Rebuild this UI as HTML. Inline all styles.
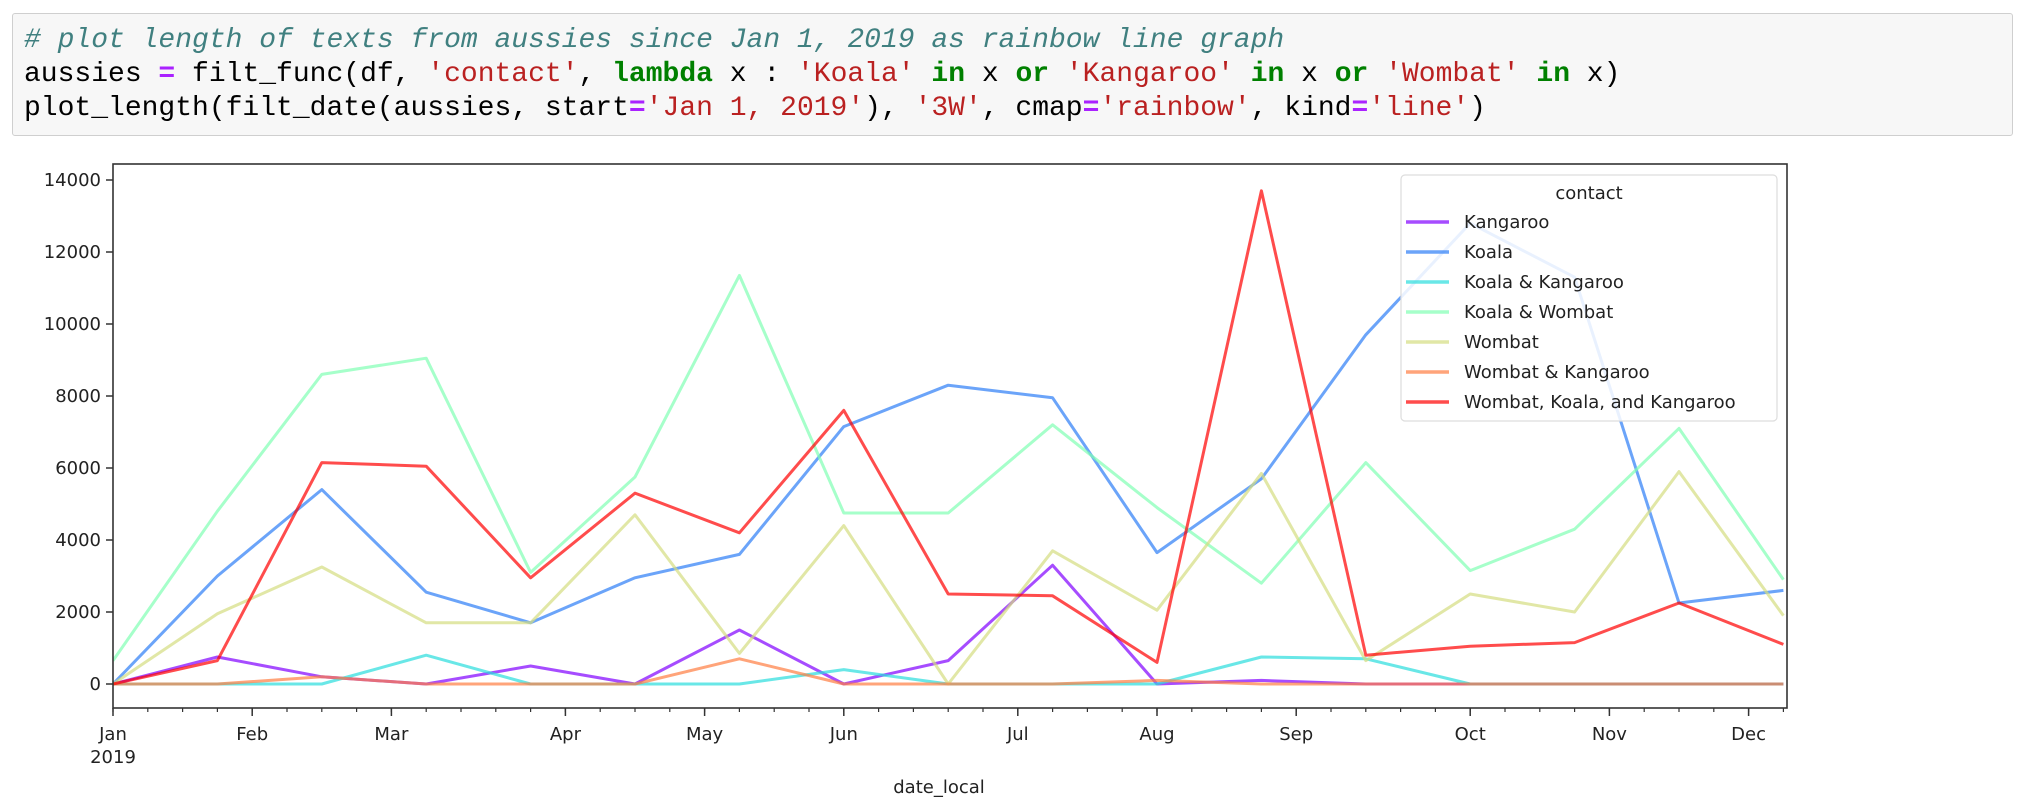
<!DOCTYPE html>
<html><head><meta charset="utf-8">
<style>
body{margin:0;width:2024px;height:812px;background:#fff;overflow:hidden;position:relative;font-family:"DejaVu Sans","Liberation Sans",sans-serif}
#code{position:absolute;left:12px;top:13px;width:2001px;height:123px;background:#f7f7f7;border:1px solid #cfcfcf;border-radius:3px;box-sizing:border-box}
#code pre{margin:0;position:absolute;left:11px;top:10px;font-family:"Liberation Mono",monospace;font-size:28px;line-height:34px;color:#000}
.c{color:#408080;font-style:italic}.k{color:#008000;font-weight:bold}.s{color:#BA2121}.o{color:#AA22FF;font-weight:bold}
svg{position:absolute;left:0;top:0}
</style></head><body>
<div id="code"><pre><span class="c"># plot length of texts from aussies since Jan 1, 2019 as rainbow line graph</span>
aussies <span class="o">=</span> filt_func(df, <span class="s">'contact'</span>, <span class="k">lambda</span> x : <span class="s">'Koala'</span> <span class="k">in</span> x <span class="k">or</span> <span class="s">'Kangaroo'</span> <span class="k">in</span> x <span class="k">or</span> <span class="s">'Wombat'</span> <span class="k">in</span> x)
plot_length(filt_date(aussies, start<span class="o">=</span><span class="s">'Jan 1, 2019'</span>), <span class="s">'3W'</span>, cmap<span class="o">=</span><span class="s">'rainbow'</span>, kind<span class="o">=</span><span class="s">'line'</span>)</pre></div>
<svg id="chart" width="2024" height="812"></svg>
<script>
const seriesNames=["Kangaroo","Koala","Koala & Kangaroo","Koala & Wombat","Wombat","Wombat & Kangaroo","Wombat, Koala, and Kangaroo"];
const seriesColors=["#8000ff","#2c7ef7","#2adddd","#80ffb4","#d4dd80","#ff7e41","#ff0000"];
const kangaroo=[0,750,200,0,500,0,1500,0,650,3300,0,100,0,0,0,0,0];
const koala=[0,3000,5400,2550,1700,2950,3600,7150,8300,7950,3650,5700,9700,12800,11300,2250,2600];
const koalaKangaroo=[0,0,0,800,0,0,0,400,0,0,0,750,700,0,0,0,0];
const koalaWombat=[650,4800,8600,9050,3100,5750,11350,4750,4750,7200,4900,2800,6150,3150,4300,7100,2900];
const wombat=[0,1950,3250,1700,1700,4700,850,4400,0,3700,2050,5850,650,2500,2000,5900,1900];
const wombatKangaroo=[0,0,200,0,0,0,700,0,0,0,100,0,0,0,0,0,0];
const allThree=[0,650,6150,6050,2950,5300,4200,7600,2500,2450,600,13700,800,1050,1150,2250,1100];
const yTicks=[0,2000,4000,6000,8000,10000,12000,14000];
const monthLabels=["Jan","Feb","Mar","Apr","May","Jun","Jul","Aug","Sep","Oct","Nov","Dec"];
const monthWeeks=[0,4,8,13,17,21,26,30,34,39,43,47];

const svg=document.getElementById('chart');const NS="http://www.w3.org/2000/svg";
const L=113,R=1787,T=164,B=708;
const xw=w=>L+w*(104.4/3);
const xi=i=>L+i*104.4;
const y=v=>684-v*0.036;
function mk(t,a){const e=document.createElementNS(NS,t);for(const k in a)e.setAttribute(k,a[k]);svg.appendChild(e);return e;}
const data=[kangaroo,koala,koalaKangaroo,koalaWombat,wombat,wombatKangaroo,allThree];
// plot lines (clipped)
const cp=mk('clipPath',{id:'cp'});const cr=document.createElementNS(NS,'rect');cr.setAttribute('x',L);cr.setAttribute('y',T);cr.setAttribute('width',R-L);cr.setAttribute('height',B-T);cp.appendChild(cr);
data.forEach((d,s)=>{
  const p=mk('polyline',{points:d.map((v,i)=>xi(i)+','+y(v)).join(' '),fill:'none',stroke:seriesColors[s],'stroke-width':3,'stroke-opacity':0.7,'stroke-linejoin':'round','clip-path':'url(#cp)'});
  
  
});
// frame
const fr=mk('rect',{x:L,y:T,width:R-L,height:B-T,fill:'none',stroke:'#333',"stroke-width":1.6});


// y ticks
yTicks.forEach(v=>{
  mk('line',{x1:L-7,x2:L,y1:y(v),y2:y(v),stroke:'#333','stroke-width':1.5});
  const t=mk('text',{x:L-12,y:y(v)+6,'text-anchor':'end','font-size':18,fill:'#222'});t.textContent=v;
  
  
});
// minor x ticks
for(let w=0;w<=48;w++){mk('line',{x1:xw(w),x2:xw(w),y1:B,y2:B+4,stroke:'#333','stroke-width':1.2});}
monthWeeks.forEach((w,i)=>{
  mk('line',{x1:xw(w),x2:xw(w),y1:B,y2:B+8,stroke:'#333','stroke-width':1.5});
  const t=mk('text',{x:xw(w),y:740,'text-anchor':'middle','font-size':18,fill:'#222'});t.textContent=monthLabels[i];
  
  
});
const yr=mk('text',{x:L,y:763,'text-anchor':'middle','font-size':18,fill:'#222'});yr.textContent='2019';


const xt=mk('text',{x:939,y:793,'text-anchor':'middle','font-size':18,fill:'#222'});xt.textContent='date_local';


// legend
const lg=mk('rect',{x:1401,y:175,width:376,height:246,rx:4,fill:'#fff','fill-opacity':0.85,stroke:'#ddd','stroke-width':1.2});


const lt=mk('text',{x:1589,y:199,'text-anchor':'middle','font-size':18,fill:'#222'});lt.textContent='contact';


seriesNames.forEach((n,s)=>{
  const yy=222+s*30;
  mk('line',{x1:1406,x2:1449,y1:yy,y2:yy,stroke:seriesColors[s],'stroke-width':3.5,'stroke-opacity':0.7});
  const t=mk('text',{x:1464,y:yy+6,'font-size':18,fill:'#222'});t.textContent=n;
  
  
});
</script>
</body></html>
